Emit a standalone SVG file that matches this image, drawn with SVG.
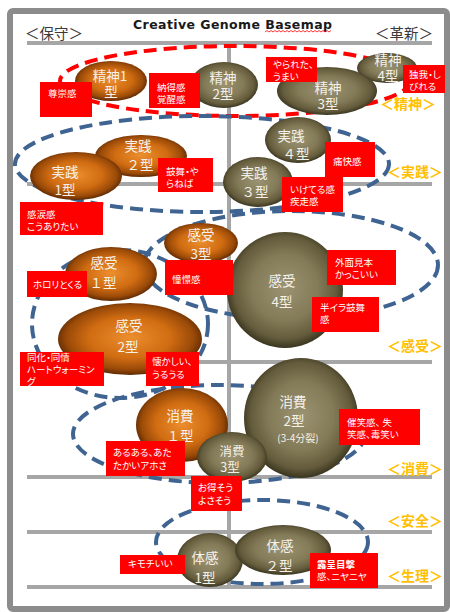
<svg xmlns="http://www.w3.org/2000/svg" width="450" height="612" viewBox="0 0 450 612">
<style>
.ln{stroke:#a6a6a6;stroke-width:4;fill:none}
.grpR{fill:none;stroke:#ff0000;stroke-width:4;stroke-dasharray:13 7}
.grpB{fill:none;stroke:#3f6491;stroke-width:4;stroke-dasharray:13 7}
.bt{font-family:"Noto Sans CJK JP","Noto Sans",sans-serif;font-size:13.5px;fill:#f4f1ea;text-anchor:middle}
.lb{fill:#ff0000}
.lt{font-family:"Noto Sans CJK JP","Noto Sans",sans-serif;font-size:9.5px;fill:#ffffff;font-feature-settings:"palt"}
.cat{font-family:"Noto Sans CJK JP",sans-serif;font-size:14px;font-weight:bold;fill:#ffc000}
.side{font-family:"Noto Sans CJK JP",sans-serif;font-size:14.5px;fill:#3a3a3a}
</style>
<defs>
<radialGradient id="gO" cx="50%" cy="48%" r="52%">
<stop offset="0" stop-color="#ec8e2e"/>
<stop offset="0.55" stop-color="#d06c12"/>
<stop offset="0.85" stop-color="#9a4a08"/>
<stop offset="1" stop-color="#5e2a03"/>
</radialGradient>
<radialGradient id="gG" cx="50%" cy="48%" r="52%">
<stop offset="0" stop-color="#9c9372"/>
<stop offset="0.55" stop-color="#837a58"/>
<stop offset="0.85" stop-color="#635b3b"/>
<stop offset="1" stop-color="#3a3520"/>
</radialGradient>
</defs>
<rect x="0" y="0" width="450" height="612" fill="#ffffff"/>
<rect x="10" y="11" width="437" height="598" rx="3" fill="#ffffff" stroke="#8c8c8c" stroke-width="6"/>
<text x="133" y="29" font-family="DejaVu Sans,sans-serif" font-weight="bold" font-size="12.5" fill="#1a1a1a" textLength="199" lengthAdjust="spacing">Creative Genome Basemap</text>
<path d="M265,32 l2,-1.5 l2,1.5 l2,-1.5 l2,1.5 l2,-1.5 l2,1.5 l2,-1.5 l2,1.5 l2,-1.5 l2,1.5 l2,-1.5 l2,1.5 l2,-1.5 l2,1.5 l2,-1.5 l2,1.5 l2,-1.5 l2,1.5 l2,-1.5 l2,1.5 l2,-1.5 l2,1.5 l2,-1.5 l2,1.5 l2,-1.5 l2,1.5 l2,-1.5 l2,1.5 l2,-1.5 l2,1.5 l2,-1.5 l2,1.5 l2,-1.5" fill="none" stroke="#ff0000" stroke-width="0.8"/>
<text class="side" x="25" y="39">＜保守＞</text>
<text class="side" x="375" y="39">＜革新＞</text>
<g id="grid">
<line class="ln" x1="27" y1="43" x2="432" y2="43"/>
<line class="ln" x1="27" y1="184" x2="432" y2="184"/>
<line class="ln" x1="27" y1="362" x2="432" y2="362"/>
<line class="ln" x1="27" y1="477" x2="432" y2="477"/>
<line class="ln" x1="27" y1="532" x2="432" y2="532"/>
<line class="ln" x1="27" y1="587" x2="432" y2="587"/>
<line class="ln" x1="229" y1="45" x2="229" y2="587"/>
</g>
<g id="connectors">
<ellipse class="grpR" cx="235" cy="81" rx="175" ry="35"/>
<ellipse class="grpB" cx="202" cy="164" rx="187" ry="48"/>
<ellipse class="grpB" cx="120" cy="324" rx="88" ry="74"/>
<ellipse class="grpB" cx="291" cy="265" rx="147" ry="54"/>
<ellipse class="grpB" cx="219" cy="434" rx="146" ry="49"/>
<ellipse class="grpB" cx="262" cy="542" rx="106" ry="42"/>
</g>
<g id="seishin1"><ellipse cx="111" cy="81" rx="36" ry="20" fill="url(#gO)"/><text class="bt" x="110" y="81">精神1</text><text class="bt" x="111" y="97">型</text></g>
<g id="seishin2"><ellipse cx="224" cy="85" rx="34" ry="23" fill="url(#gG)"/><text class="bt" x="223" y="83">精神</text><text class="bt" x="223" y="99">2型</text></g>
<g id="seishin4"><ellipse cx="387" cy="68" rx="30" ry="15" fill="url(#gG)"/><text class="bt" x="388" y="65">精神</text><text class="bt" x="388" y="81">4型</text></g>
<g id="seishin3"><ellipse cx="327" cy="91" rx="50" ry="24" fill="url(#gG)"/><text class="bt" x="328" y="93">精神</text><text class="bt" x="328" y="109">3型</text></g>
<g id="jissen2"><ellipse cx="141" cy="156" rx="46" ry="21" fill="url(#gO)"/><text class="bt" x="138" y="151">実践</text><text class="bt" x="140" y="170">２型</text></g>
<g id="jissen1"><ellipse cx="76" cy="176" rx="46" ry="24" fill="url(#gO)"/><text class="bt" x="65" y="177">実践</text><text class="bt" x="65" y="195">1型</text></g>
<g id="jissen4"><ellipse cx="298" cy="140" rx="33" ry="23" fill="url(#gG)"/><text class="bt" x="291" y="141">実践</text><text class="bt" x="296" y="159">４型</text></g>
<g id="jissen3"><ellipse cx="258" cy="182" rx="35" ry="25" fill="url(#gG)"/><text class="bt" x="254" y="178">実践</text><text class="bt" x="255" y="197">３型</text></g>
<g id="kanju4"><circle cx="285" cy="290" r="58" fill="url(#gG)"/><text class="bt" x="282" y="286">感受</text><text class="bt" x="282" y="307">4型</text></g>
<g id="kanju3"><ellipse cx="201" cy="243" rx="37" ry="20" fill="url(#gO)"/><text class="bt" x="201" y="240">感受</text><text class="bt" x="201" y="259">3型</text></g>
<g id="kanju1"><ellipse cx="111" cy="274" rx="46" ry="27" fill="url(#gO)"/><text class="bt" x="104" y="268">感受</text><text class="bt" x="103" y="288">１型</text></g>
<g id="kanju2"><ellipse cx="130" cy="339" rx="72" ry="36" fill="url(#gO)"/><text class="bt" x="129" y="331">感受</text><text class="bt" x="128" y="352">2型</text></g>
<g id="shohi1"><ellipse cx="182" cy="425" rx="46" ry="37" fill="url(#gO)"/><text class="bt" x="180" y="421">消費</text><text class="bt" x="180" y="441">１型</text></g>
<g id="shohi2"><ellipse cx="301" cy="418" rx="57" ry="60" fill="url(#gG)"/><text class="bt" x="293" y="407">消費</text><text class="bt" x="294" y="426">2型</text><text class="bt" x="298" y="442" style="font-size:10px">(3-4分裂)</text></g>
<g id="shohi3"><ellipse cx="232" cy="457" rx="35" ry="25" fill="url(#gG)"/><text class="bt" x="232" y="456" style="font-size:12.5px">消費</text><text class="bt" x="230" y="472" style="font-size:12.5px">3型</text></g>
<g id="taikan1"><ellipse cx="210" cy="560" rx="33" ry="27" fill="url(#gG)"/><text class="bt" x="205" y="563">体感</text><text class="bt" x="205" y="583">1型</text></g>
<g id="taikan2"><ellipse cx="283" cy="550" rx="48" ry="25" fill="url(#gG)"/><text class="bt" x="280" y="551">体感</text><text class="bt" x="279" y="571">２型</text></g>
<g id="lbl-sonsu"><rect class="lb" x="40" y="82" width="52" height="35"/><text class="lt" x="48" y="97">尊崇感</text></g>
<g id="lbl-nattoku"><rect class="lb" x="149" y="73" width="51" height="35"/><text class="lt" x="157" y="91">納得感</text><text class="lt" x="157" y="103">覚醒感</text></g>
<g id="lbl-yarareta"><rect class="lb" x="266" y="57" width="51" height="25"/><text class="lt" x="273" y="68">やられた、</text><text class="lt" x="273" y="80">うまい</text></g>
<g id="lbl-dokuga"><rect class="lb" x="403" y="65" width="42" height="28"/><text class="lt" x="409" y="78">独我・し</text><text class="lt" x="409" y="90">びれる</text></g>
<g id="lbl-kobu"><rect class="lb" x="158" y="158" width="55" height="34"/><text class="lt" x="166" y="175">鼓舞・や</text><text class="lt" x="166" y="187">らねば</text></g>
<g id="lbl-tsukai"><rect class="lb" x="325" y="142" width="50" height="35"/><text class="lt" x="333" y="165">痛快感</text></g>
<g id="lbl-iketeru"><rect class="lb" x="282" y="177" width="61" height="35"/><text class="lt" x="290" y="193">いけてる感</text><text class="lt" x="290" y="205">疾走感</text></g>
<g id="lbl-kanrui"><rect class="lb" x="20" y="202" width="83" height="33"/><text class="lt" x="27" y="218">感涙感</text><text class="lt" x="27" y="230">こうありたい</text></g>
<g id="lbl-horori"><rect class="lb" x="27" y="271" width="60" height="26"/><text class="lt" x="33" y="288">ホロリとくる</text></g>
<g id="lbl-shokei"><rect class="lb" x="165" y="260" width="68" height="35"/><text class="lt" x="172" y="283">憧憬感</text></g>
<g id="lbl-doka"><rect class="lb" x="20" y="352" width="84" height="34"/><text class="lt" x="27" y="361">同化・同情</text><text class="lt" x="27" y="373">ハートウォーミン</text><text class="lt" x="27" y="385">グ</text></g>
<g id="lbl-natsukashii"><rect class="lb" x="146" y="352" width="53" height="34"/><text class="lt" x="152" y="365">懐かしい、</text><text class="lt" x="152" y="378">うるうる</text></g>
<g id="lbl-gaimen"><rect class="lb" x="327" y="250" width="69" height="35"/><text class="lt" x="335" y="266">外面見本</text><text class="lt" x="335" y="278">かっこいい</text></g>
<g id="lbl-hanira"><rect class="lb" x="312" y="297" width="67" height="35"/><text class="lt" x="320" y="311">半イラ鼓舞</text><text class="lt" x="320" y="323">感</text></g>
<g id="lbl-aruaru"><rect class="lb" x="106" y="441" width="79" height="35"/><text class="lt" x="113" y="456">あるある、あた</text><text class="lt" x="113" y="469">たかいアホさ</text></g>
<g id="lbl-saisho"><rect class="lb" x="339" y="409" width="81" height="36"/><text class="lt" x="347" y="426">催笑感、 失</text><text class="lt" x="347" y="438">笑感、毒笑い</text></g>
<g id="lbl-otoku"><rect class="lb" x="191" y="476" width="51" height="35"/><text class="lt" x="198" y="491">お得そう</text><text class="lt" x="198" y="504">よさそう</text></g>
<g id="lbl-kimochi"><rect class="lb" x="120" y="555" width="65" height="19"/><text class="lt" x="128" y="567">キモチいい</text></g>
<g id="lbl-rotei"><rect class="lb" x="310" y="553" width="68" height="35"/><text class="lt" x="317" y="568" font-weight="bold">露呈目撃</text><text class="lt" x="317" y="580">感、ニヤニヤ</text></g>
<g id="categories">
<text class="cat" x="380" y="109">＜精神＞</text>
<text class="cat" x="387" y="177">＜実践＞</text>
<text class="cat" x="387" y="351">＜感受＞</text>
<text class="cat" x="387" y="474">＜消費＞</text>
<text class="cat" x="387" y="526">＜安全＞</text>
<text class="cat" x="387" y="581">＜生理＞</text>
</g>
</svg>
